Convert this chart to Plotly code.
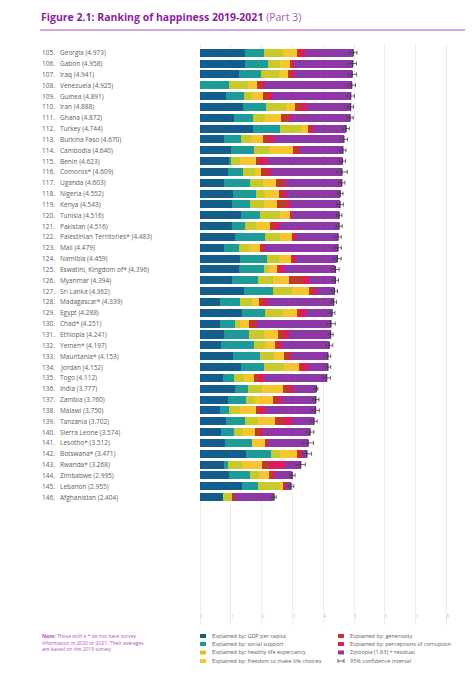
import plotly.graph_objects as go

# rows 105-146 of the happiness ranking
ranks = list(range(105, 147))
countries = [
    "Georgia", "Gabon", "Iraq", "Venezuela", "Guinea", "Iran", "Ghana", "Turkey",
    "Burkina Faso", "Cambodia", "Benin", "Comoros*", "Uganda", "Nigeria", "Kenya",
    "Tunisia", "Pakistan", "Palestinian Territories*", "Mali", "Namibia",
    "Eswatini, Kingdom of*", "Myanmar", "Sri Lanka", "Madagascar*", "Egypt", "Chad*",
    "Ethiopia", "Yemen*", "Mauritania*", "Jordan", "Togo", "India", "Zambia", "Malawi",
    "Tanzania", "Sierra Leone", "Lesotho*", "Botswana*", "Rwanda*", "Zimbabwe",
    "Lebanon", "Afghanistan",
]
scores = [
    4.973, 4.958, 4.941, 4.925, 4.891, 4.888, 4.872, 4.744, 4.670, 4.640, 4.623,
    4.609, 4.603, 4.552, 4.543, 4.516, 4.516, 4.483, 4.479, 4.459, 4.396, 4.394,
    4.362, 4.339, 4.288, 4.251, 4.241, 4.197, 4.153, 4.152, 4.112, 3.777, 3.760,
    3.750, 3.702, 3.574, 3.512, 3.471, 3.268, 2.995, 2.955, 2.404,
]
gdp = [
    1.47, 1.45, 1.28, 0.00, 0.85, 1.40, 1.10, 1.72, 0.79, 1.01, 0.94, 0.90, 0.77,
    1.06, 1.04, 1.34, 1.04, 1.15, 0.79, 1.29, 1.27, 1.04, 1.42, 0.66, 1.36, 0.66,
    0.78, 0.69, 1.07, 1.33, 0.75, 1.15, 0.91, 0.64, 0.84, 0.69, 0.82, 1.50, 0.78,
    0.94, 1.36, 0.758,
]
social = [
    0.62, 0.75, 0.69, 0.95, 0.58, 0.75, 0.62, 0.87, 0.55, 0.75, 0.07, 0.50, 0.86,
    0.76, 0.59, 0.62, 0.41, 0.95, 0.49, 0.89, 0.80, 0.83, 0.95, 0.65, 0.76, 0.49,
    0.82, 1.05, 0.89, 0.74, 0.34, 0.40, 0.59, 0.29, 0.61, 0.40, 0.87, 0.82, 0.13,
    0.69, 0.52, 0.000,
]
health = [
    0.59, 0.41, 0.58, 0.60, 0.26, 0.64, 0.40, 0.70, 0.33, 0.50, 0.30, 0.40, 0.42,
    0.30, 0.44, 0.65, 0.38, 0.51, 0.30, 0.38, 0.18, 0.49, 0.62, 0.38, 0.56, 0.14,
    0.47, 0.38, 0.45, 0.65, 0.35, 0.46, 0.30, 0.36, 0.43, 0.31, 0.00, 0.29, 0.45,
    0.27, 0.70, 0.289,
]
freedom = [
    0.49, 0.34, 0.31, 0.29, 0.34, 0.30, 0.51, 0.21, 0.38, 0.75, 0.51, 0.18, 0.43,
    0.43, 0.43, 0.34, 0.45, 0.36, 0.36, 0.38, 0.28, 0.54, 0.56, 0.21, 0.47, 0.29,
    0.46, 0.33, 0.33, 0.51, 0.30, 0.67, 0.56, 0.53, 0.57, 0.37, 0.43, 0.57, 0.65,
    0.35, 0.10, 0.000,
]
generosity = [
    0.03, 0.05, 0.14, 0.16, 0.20, 0.23, 0.25, 0.10, 0.20, 0.22, 0.14, 0.20, 0.24,
    0.14, 0.32, 0.03, 0.17, 0.07, 0.13, 0.08, 0.04, 0.43, 0.14, 0.17, 0.05, 0.24,
    0.19, 0.10, 0.19, 0.06, 0.19, 0.20, 0.17, 0.14, 0.27, 0.24, 0.08, 0.04, 0.22,
    0.11, 0.08, 0.089,
]
corruption = [
    0.20, 0.06, 0.06, 0.07, 0.12, 0.15, 0.07, 0.06, 0.14, 0.02, 0.22, 0.14, 0.07,
    0.10, 0.11, 0.02, 0.10, 0.09, 0.05, 0.09, 0.14, 0.20, 0.08, 0.14, 0.25, 0.03,
    0.16, 0.11, 0.02, 0.21, 0.14, 0.14, 0.11, 0.16, 0.27, 0.05, 0.01, 0.09, 0.52,
    0.09, 0.03, 0.005,
]
dystopia = [
    1.573, 1.898, 1.881, 2.855, 2.541, 1.418, 1.922, 1.084, 2.280, 1.390, 2.443,
    2.289, 1.813, 1.762, 1.613, 1.516, 1.966, 1.353, 2.359, 1.349, 1.686, 0.864,
    0.592, 2.129, 0.838, 2.401, 1.361, 1.537, 1.203, 0.652, 2.042, 0.757, 1.120,
    1.630, 0.712, 1.514, 1.302, 0.161, 0.518, 0.545, 0.165, 1.263,
]
ci_half = [
    0.12, 0.12, 0.14, 0.12, 0.12, 0.09, 0.10, 0.10, 0.12, 0.10, 0.10, 0.17, 0.10,
    0.09, 0.11, 0.09, 0.10, 0.10, 0.11, 0.12, 0.12, 0.10, 0.10, 0.09, 0.09, 0.14,
    0.08, 0.11, 0.09, 0.09, 0.12, 0.05, 0.10, 0.12, 0.10, 0.12, 0.17, 0.15, 0.15,
    0.09, 0.09, 0.07,
]

factors = [
    ("Explained by: GDP per capita", gdp, "#135d8d"),
    ("Explained by: social support", social, "#1c9b99"),
    ("Explained by: healthy life expectancy", health, "#c8ca2b"),
    ("Explained by: freedom to make life choices", freedom, "#f7c52d"),
    ("Explained by: generosity", generosity, "#c0392d"),
    ("Explained by: perceptions of corruption", corruption, "#e3195c"),
    ("Dystopia (1.83) + residual", dystopia, "#8e38a8"),
]

# the page body has an 8px margin, so the figure is shrunk and shifted by it
OFF = 8
W, H = 473 - OFF, 680 - OFF
L, R, T, B = 200 - OFF, 8, 44 - OFF, 55
XMAX = 8.6
plot_w = W - L - R
plot_h = H - T - B


def px_x(px):
    return (px - OFF - L) / plot_w


def px_y(py):
    return (H - B - (py - OFF)) / plot_h


fig = go.Figure()
for name, vals, col in factors:
    fig.add_trace(go.Bar(
        y=ranks, x=vals, name=name, orientation="h",
        marker=dict(color=col, line=dict(width=0)),
        showlegend=False, hoverinfo="x+name",
    ))

# 95% confidence interval whiskers
fig.add_trace(go.Scatter(
    x=scores, y=ranks, mode="markers", showlegend=False,
    marker=dict(symbol="line-ns", size=5, line=dict(width=1.2, color="#3a3a3a")),
    error_x=dict(type="data", array=ci_half, color="#444444", thickness=0.8, width=2),
    hoverinfo="x",
))

# country labels on the left
font_main = "Open Sans, Lato, sans-serif"
annotations = []
for rk, c, s in zip(ranks, countries, scores):
    annotations.append(dict(
        x=px_x(40), y=rk, xref="paper", yref="y", text=f"{rk}.",
        showarrow=False, xanchor="left", yanchor="middle",
        font=dict(size=6.5, color="#606060", family=font_main),
    ))
    annotations.append(dict(
        x=px_x(57.5), y=rk, xref="paper", yref="y", text=f"{c} ({s:.3f})",
        showarrow=False, xanchor="left", yanchor="middle",
        font=dict(size=6.5, color="#606060", family=font_main),
    ))

# title
annotations.append(dict(
    x=px_x(39), y=px_y(17), xref="paper", yref="paper",
    text="<b>Figure 2.1: Ranking of happiness 2019-2021</b>"
         " <span style='color:#a25bb8'>(Part 3)</span>",
    showarrow=False, xanchor="left", yanchor="middle",
    font=dict(size=10.5, color="#8b1e9f", family=font_main),
))

# note
annotations.append(dict(
    x=px_x(40), y=px_y(631), xref="paper", yref="paper", align="left",
    text="<b>Note:</b> Those with a * do not have survey<br>"
         "information in 2020 or 2021. Their averages<br>"
         "are based on the 2019 survey.",
    showarrow=False, xanchor="left", yanchor="top",
    font=dict(size=5, color="#b34fc2", family=font_main),
))

shapes = [dict(
    type="line", xref="paper", yref="paper",
    x0=px_x(40), x1=px_x(473), y0=px_y(30), y1=px_y(30),
    line=dict(color="#a94fbd", width=1),
)]

# legend (two columns)
legend_pos = [(200, 636), (200, 644), (200, 652.5), (200, 661),
              (338, 636), (338, 644), (338, 652.5)]
for (name, _, col), (lx, ly) in zip(factors, legend_pos):
    shapes.append(dict(
        type="rect", xref="paper", yref="paper",
        x0=px_x(lx), x1=px_x(lx + 6), y0=px_y(ly + 2), y1=px_y(ly - 2),
        fillcolor=col, line=dict(width=0),
    ))
    annotations.append(dict(
        x=px_x(lx + 10), y=px_y(ly), xref="paper", yref="paper", text=name,
        showarrow=False, xanchor="left", yanchor="middle",
        font=dict(size=5.5, color="#606060", family=font_main),
    ))
# confidence-interval legend symbol
cx, cy = 338, 661
shapes += [
    dict(type="line", xref="paper", yref="paper", x0=px_x(cx), x1=px_x(cx + 6),
         y0=px_y(cy), y1=px_y(cy), line=dict(color="#444", width=0.8)),
    dict(type="line", xref="paper", yref="paper", x0=px_x(cx), x1=px_x(cx),
         y0=px_y(cy - 2), y1=px_y(cy + 2), line=dict(color="#444", width=0.8)),
    dict(type="line", xref="paper", yref="paper", x0=px_x(cx + 6), x1=px_x(cx + 6),
         y0=px_y(cy - 2), y1=px_y(cy + 2), line=dict(color="#444", width=0.8)),
]
annotations.append(dict(
    x=px_x(cx + 10), y=px_y(cy), xref="paper", yref="paper",
    text="95% confidence interval", showarrow=False, xanchor="left", yanchor="middle",
    font=dict(size=5.5, color="#606060", family=font_main),
))

fig.update_layout(
    width=W, height=H,
    margin=dict(l=L, r=R, t=T, b=B),
    barmode="stack", bargap=0.26,
    plot_bgcolor="white", paper_bgcolor="white",
    annotations=annotations, shapes=shapes,
    showlegend=False,
    xaxis=dict(
        range=[0, XMAX], tickmode="array", tickvals=list(range(9)),
        showgrid=True, gridcolor="#ececec", gridwidth=0.8,
        zeroline=True, zerolinecolor="#ececec", zerolinewidth=0.8,
        ticks="", ticklabelposition="inside right",
        tickfont=dict(size=5, color="#c8c8c8", family=font_main),
        showline=False, fixedrange=True,
    ),
    yaxis=dict(
        range=[ranks[-1] + 11.8, ranks[0] - 0.8],
        showticklabels=False, showgrid=False, zeroline=False, ticks="",
        fixedrange=True,
    ),
)

fig.write_html("out.html")
